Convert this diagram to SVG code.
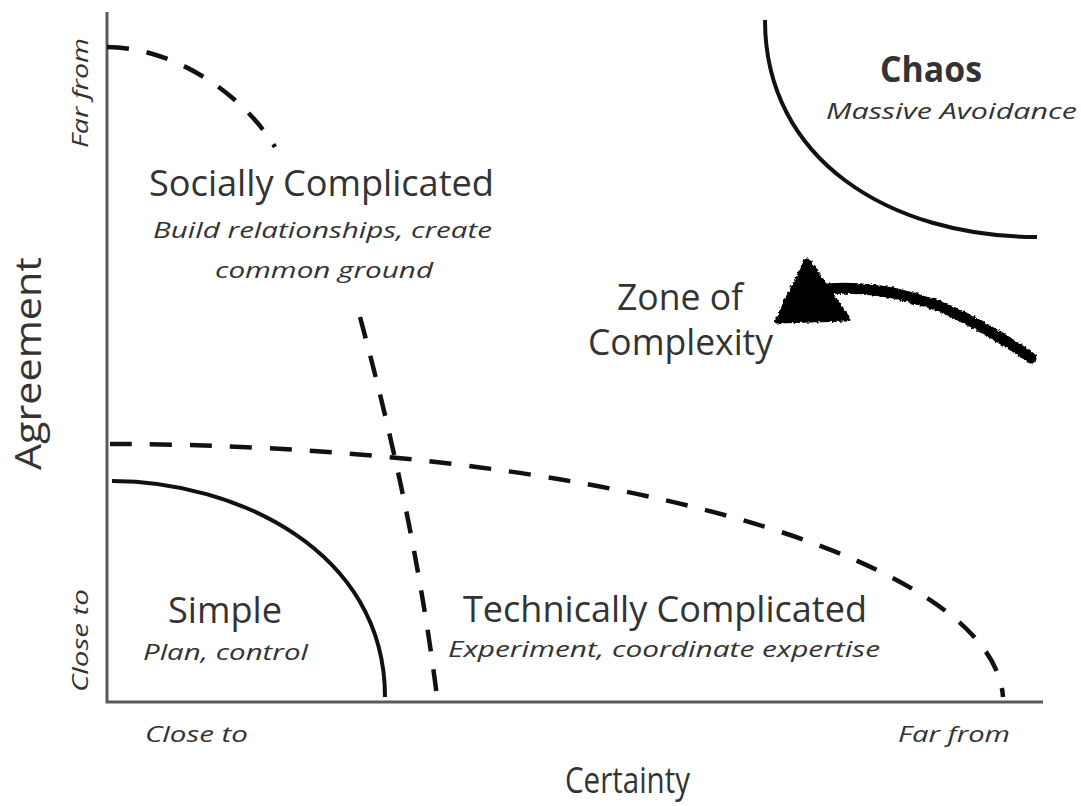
<svg xmlns="http://www.w3.org/2000/svg" width="1081" height="806" viewBox="0 0 1081 806">
  <defs>
    <style>
      .axis { stroke: #5a5a5a; stroke-width: 3; fill: none; }
      .solid { stroke: #111; stroke-width: 4; fill: none; stroke-linecap: butt; }
      .dash { stroke: #111; stroke-width: 4.5; fill: none; stroke-dasharray: 22 18; }
      .title { font-family: "Open Sans", "Liberation Sans", sans-serif; font-size: 36px; fill: #333; }
      .sub { font-family: "Open Sans", "Liberation Sans", sans-serif; font-style: italic; font-size: 22px; fill: #333; }
      .bold { font-weight: bold; }
    </style>
    <filter id="rough" x="-10%" y="-20%" width="120%" height="140%">
      <feTurbulence type="fractalNoise" baseFrequency="0.35" numOctaves="2" seed="3" result="n"/>
      <feDisplacementMap in="SourceGraphic" in2="n" scale="4" xChannelSelector="R" yChannelSelector="G"/>
    </filter>
  </defs>
  <rect width="1081" height="806" fill="#fff"/>

  <g id="axes">
    <path class="axis" d="M107,12 V702 H1043"/>
    <text class="title" transform="translate(41,470) rotate(-90)" font-size="40" textLength="213" lengthAdjust="spacingAndGlyphs">Agreement</text>
    <text class="sub" transform="translate(88,148) rotate(-90)" textLength="110" lengthAdjust="spacingAndGlyphs">Far from</text>
    <text class="sub" transform="translate(88,692) rotate(-90)" textLength="103" lengthAdjust="spacingAndGlyphs">Close to</text>
    <text class="title" x="565" y="793" textLength="125" lengthAdjust="spacingAndGlyphs">Certainty</text>
    <text class="sub" x="145" y="742" textLength="103" lengthAdjust="spacingAndGlyphs">Close to</text>
    <text class="sub" x="898" y="742" textLength="112" lengthAdjust="spacingAndGlyphs">Far from</text>
  </g>

  <g id="connectors">
    <path class="dash" d="M107,47 C170,47 240,90 275,147"/>
    <path class="dash" d="M360,317 Q415,520 437,697"/>
    <path class="dash" d="M110,444 A896,258 0 0 1 1003,697"/>
    <path class="solid" d="M112,481 C235,481 385,550 385,697"/>
    <path class="solid" d="M765,20 C765,160 890,237 1037,237"/>
    <g id="arrow" filter="url(#rough)">
      <path d="M827,289 C880,285 930,300 965,318 C995,334 1015,346 1031,358" stroke="#000" stroke-width="11" fill="none" stroke-linecap="round"/>
      <polygon points="807,260 777,321 848,319" fill="#000" stroke="#000" stroke-width="5" stroke-linejoin="round"/>
    </g>
  </g>

  <g id="chaos">
    <text class="title bold" x="880" y="82" font-size="34" textLength="102" lengthAdjust="spacingAndGlyphs">Chaos</text>
    <text class="sub" x="826" y="119" textLength="251" lengthAdjust="spacingAndGlyphs">Massive Avoidance</text>
  </g>

  <g id="socially-complicated">
    <text class="title" x="149" y="196" textLength="345" lengthAdjust="spacingAndGlyphs">Socially Complicated</text>
    <text class="sub" x="153" y="238" textLength="339" lengthAdjust="spacingAndGlyphs">Build relationships, create</text>
    <text class="sub" x="215" y="278" textLength="218" lengthAdjust="spacingAndGlyphs">common ground</text>
  </g>

  <g id="zone-of-complexity">
    <text class="title" x="617" y="310" textLength="126" lengthAdjust="spacingAndGlyphs">Zone of</text>
    <text class="title" x="588" y="355" textLength="185" lengthAdjust="spacingAndGlyphs">Complexity</text>
  </g>

  <g id="simple">
    <text class="title" x="168" y="623" textLength="114" lengthAdjust="spacingAndGlyphs">Simple</text>
    <text class="sub" x="143" y="660" textLength="165" lengthAdjust="spacingAndGlyphs">Plan, control</text>
  </g>

  <g id="technically-complicated">
    <text class="title" x="463" y="622" textLength="404" lengthAdjust="spacingAndGlyphs">Technically Complicated</text>
    <text class="sub" x="448" y="657" textLength="432" lengthAdjust="spacingAndGlyphs">Experiment, coordinate expertise</text>
  </g>
</svg>
